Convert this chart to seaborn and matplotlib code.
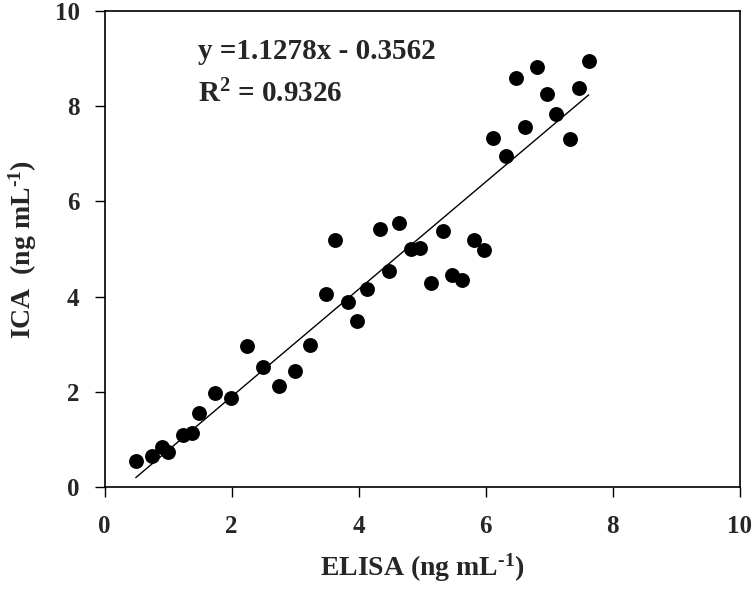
import matplotlib
matplotlib.use("Agg")
import matplotlib.pyplot as plt
import seaborn as sns
import numpy as np
import pandas as pd

# ELISA vs ICA values
elisa = [0.49, 0.75, 0.90, 1.00, 1.24, 1.38, 1.49, 1.74, 1.99, 2.24,
         2.49, 2.74, 2.99, 3.23, 3.48, 3.63, 3.83, 3.98, 4.13, 4.33,
         4.48, 4.63, 4.83, 4.97, 5.13, 5.32, 5.47, 5.62, 5.82, 5.97,
         6.12, 6.32, 6.47, 6.62, 6.81, 6.96, 7.11, 7.32, 7.46, 7.62]
ica = [0.55, 0.66, 0.83, 0.73, 1.09, 1.13, 1.56, 1.97, 1.86, 2.97,
       2.53, 2.13, 2.44, 2.99, 4.06, 5.19, 3.88, 3.48, 4.16, 5.43,
       4.53, 5.54, 5.01, 5.02, 4.29, 5.37, 4.46, 4.34, 5.19, 4.97,
       7.33, 6.96, 8.59, 7.57, 8.83, 8.25, 7.84, 7.31, 8.39, 8.95]
slope = 1.1278
intercept = -0.3562
r2 = 0.9326
ticks = [0, 2, 4, 6, 8, 10]

sns.set_style("ticks")
plt.rcParams['font.family'] = ['Liberation Serif', 'DejaVu Serif']
plt.rcParams['font.weight'] = 'bold'
plt.rcParams['mathtext.fontset'] = 'custom'
plt.rcParams['mathtext.rm'] = 'Liberation Serif:bold'
plt.rcParams['mathtext.bf'] = 'Liberation Serif:bold'
plt.rcParams['mathtext.it'] = 'Liberation Serif:bold'

df = pd.DataFrame({'ELISA': elisa, 'ICA': ica})
fit = pd.DataFrame({'x': [min(elisa), max(elisa)]})
fit['y'] = slope * fit['x'] + intercept

fig = plt.figure(figsize=(7.55, 5.97), dpi=100)
ax = fig.add_axes([0.1386, 0.1843, 0.8414, 0.7973])

sns.scatterplot(data=df, x='ELISA', y='ICA', ax=ax, color='black',
                s=115, edgecolor='black', linewidth=0, zorder=3)
sns.lineplot(data=fit, x='x', y='y', ax=ax, color='black', linewidth=1)

ax.set_xlim(0, 10)
ax.set_ylim(0, 10)
ax.set_xticks(ticks)
ax.set_yticks(ticks)
ax.tick_params(direction='out', length=7, width=1, labelsize=18, color='black')
ax.tick_params(axis='x', pad=13)
ax.tick_params(axis='y', pad=11)
for lab in ax.get_xticklabels() + ax.get_yticklabels():
    lab.set_fontweight('bold')
for sp in ax.spines.values():
    sp.set_visible(True)
    sp.set_linewidth(1.2)
    sp.set_color('black')

ax.set_xlabel(r'ELISA (ng mL$^{\text{-1}}$)', fontsize=20, fontweight='bold', labelpad=10)
ax.set_ylabel(r'ICA  (ng mL$^{\text{-1}}$)', fontsize=20, fontweight='bold', labelpad=11)

ax.text(1.47, 9.0, f'y ={slope}x - {abs(intercept)}', fontsize=21, fontweight='bold', va='baseline')
ax.text(1.47, 8.08, f'R$^{{2}}$ = {r2}', fontsize=21, fontweight='bold', va='baseline')

fig.savefig('out.png', dpi=100)
